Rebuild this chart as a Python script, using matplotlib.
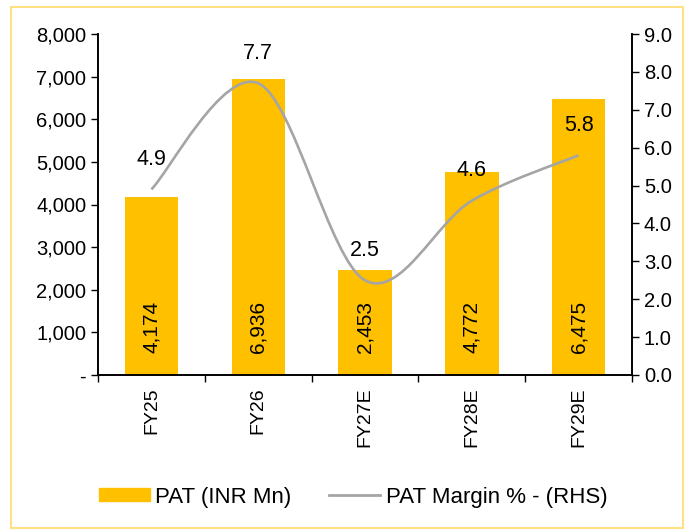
import numpy as np
import matplotlib
matplotlib.use("Agg")
import matplotlib.pyplot as plt
from matplotlib.path import Path
from matplotlib.patches import PathPatch, Rectangle
from matplotlib.lines import Line2D
from matplotlib.ticker import FuncFormatter

plt.rcParams["font.family"] = ["Liberation Sans", "DejaVu Sans"]

YEARS = ["FY25", "FY26", "FY27E", "FY28E", "FY29E"]
PAT = [4174, 6936, 2453, 4772, 6475]
MARGIN = [4.9, 7.7, 2.5, 4.6, 5.8]

BAR_COLOR = "#FFC000"
LINE_COLOR = "#A5A5A5"

fig = plt.figure(figsize=(7.0, 5.3), dpi=100)
fig.patches.append(Rectangle((11 / 700, 2 / 530), 672 / 700, 521 / 530,
                             transform=fig.transFigure, fill=False,
                             edgecolor="#FFE083", linewidth=1.5))

ax = fig.add_axes([98 / 700, 1 - 375 / 530, 534 / 700, 341 / 530])
ax2 = ax.twinx()
ax.set_zorder(1)
ax2.set_zorder(2)
ax.patch.set_visible(False)

x = np.arange(len(YEARS))
ax.bar(x, PAT, width=0.5, color=BAR_COLOR, zorder=2)
for xi, v in zip(x, PAT):
    ax.text(xi, 1130, f"{v:,}", rotation=90, ha="center", va="center",
            fontsize=15)

ax.set_xlim(-0.5, len(YEARS) - 0.5)
ax.set_ylim(0, 8000)
ax.set_yticks(np.arange(0, 8001, 1000))
ax.yaxis.set_major_formatter(FuncFormatter(lambda v, p: "-" if v == 0 else f"{v:,.0f}"))
ax.set_xticks(np.arange(-0.5, len(YEARS), 1.0), minor=False)
ax.set_xticklabels([])
ax.set_xticks(x, minor=True)
ax.set_xticklabels(YEARS, minor=True, rotation=90, fontsize=14)
ax.tick_params(axis="x", which="minor", length=0, pad=9)
ax.tick_params(axis="x", which="major", length=5, direction="out", width=1)
ax.tick_params(axis="y", labelsize=14.5, length=5, width=1)

# smooth margin line (Catmull-Rom -> Bezier)
pts = np.column_stack([x, MARGIN]).astype(float)
verts = [tuple(pts[0])]
codes = [Path.MOVETO]
for i in range(len(pts) - 1):
    p0 = pts[i - 1] if i > 0 else pts[i]
    p1, p2 = pts[i], pts[i + 1]
    p3 = pts[i + 2] if i + 2 < len(pts) else pts[i + 1]
    c1 = p1 + (p2 - p0) / 6
    c2 = p2 - (p3 - p1) / 6
    verts += [tuple(c1), tuple(c2), tuple(p2)]
    codes += [Path.CURVE4] * 3
ax2.add_patch(PathPatch(Path(verts, codes), facecolor="none",
                        edgecolor=LINE_COLOR, linewidth=1.9, zorder=3))
for xi, m in zip(x, MARGIN):
    ax2.annotate(f"{m:.1f}", (xi, m), xytext=(0, 21.5), textcoords="offset points",
                 ha="center", va="center", fontsize=15.5)

ax2.set_ylim(0, 9)
ax2.set_yticks(np.arange(0, 9.01, 1))
ax2.yaxis.set_major_formatter(FuncFormatter(lambda v, p: f"{v:.1f}"))
ax2.tick_params(axis="y", labelsize=14.5, length=5, width=1)

for a in (ax, ax2):
    a.spines["top"].set_visible(False)
    for s in ("left", "right", "bottom"):
        a.spines[s].set_linewidth(1.2)

handles = [Rectangle((0, 0), 1, 1, color=BAR_COLOR),
           Line2D([0], [0], color=LINE_COLOR, linewidth=2)]
fig.legend(handles, ["PAT (INR Mn)", "PAT Margin % - (RHS)"],
           loc="center", bbox_to_anchor=(353 / 700, 1 - 497 / 530), ncol=2,
           frameon=False, fontsize=16, handlelength=2.3, handleheight=0.5,
           columnspacing=1.7, handletextpad=0.25)

fig.savefig("out.png", dpi=100)
